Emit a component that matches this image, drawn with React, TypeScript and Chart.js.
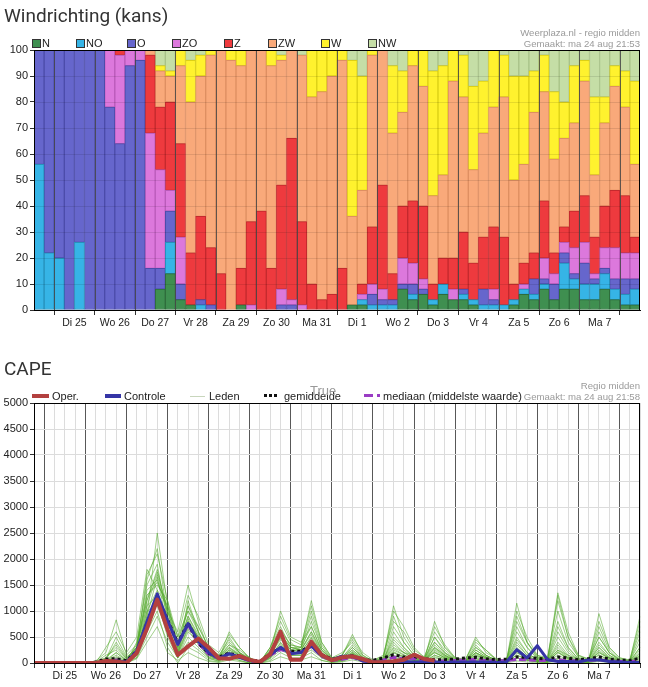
import React, { useEffect, useRef } from 'react';
import { Chart, registerables } from 'chart.js';

Chart.register(...registerables);
Chart.defaults.font.family = "'Liberation Sans', Arial, sans-serif";

// ---------- shared time axis ----------
const dayLabels = ['Di 25', 'Wo 26', 'Do 27', 'Vr 28', 'Za 29', 'Zo 30', 'Ma 31', 'Di 1', 'Wo 2', 'Do 3', 'Vr 4', 'Za 5', 'Zo 6', 'Ma 7'];
const hours = ['00u', '06u', '12u', '18u'];
const windSteps = ['Ma 24 12u', 'Ma 24 18u', ...dayLabels.flatMap((d) => hours.map((h) => `${d} ${h}`)), 'Di 8 00u', 'Di 8 06u'];
const capeSteps = ['Ma 24 18u', ...dayLabels.flatMap((d) => hours.map((h) => `${d} ${h}`)), 'Di 8 00u', 'Di 8 06u', 'Di 8 12u'];
// day boundaries on the wind chart (bar index), last one has no label
const windDayTicks = [2, 6, 10, 14, 18, 22, 26, 30, 34, 38, 42, 46, 50, 54, 58];

// ---------- wind direction probability (%) per 6h step ----------
const windN = [
  0, 0, 0, 0, 0, 0, 0, 0, 0, 0,
  0, 0, 8, 14, 4, 2, 0, 0, 0, 0,
  2, 0, 0, 0, 0, 0, 0, 0, 0, 0,
  0, 2, 2, 0, 0, 0, 8, 4, 6, 2,
  6, 4, 4, 2, 0, 0, 0, 2, 6, 4,
  8, 4, 8, 8, 4, 4, 8, 4, 2, 2,
];
const windNO = [
  56, 22, 20, 0, 26, 0, 0, 0, 0, 0,
  0, 0, 0, 12, 0, 0, 2, 0, 0, 0,
  0, 0, 0, 0, 0, 0, 0, 0, 0, 0,
  0, 0, 2, 2, 2, 2, 0, 2, 0, 2,
  4, 0, 2, 2, 2, 2, 2, 2, 2, 2,
  2, 0, 10, 4, 6, 6, 6, 4, 4, 6,
];
const windO = [
  44, 78, 80, 100, 74, 100, 100, 78, 64, 94,
  96, 16, 8, 12, 6, 0, 2, 2, 0, 0,
  0, 0, 0, 0, 2, 2, 0, 0, 0, 0,
  0, 0, 0, 4, 2, 2, 2, 4, 2, 0,
  0, 0, 2, 0, 6, 2, 0, 0, 0, 6,
  2, 6, 4, 2, 8, 2, 2, 4, 6, 4,
];
const windZO = [
  0, 0, 0, 0, 0, 0, 0, 22, 34, 6,
  4, 52, 38, 8, 18, 0, 0, 0, 0, 0,
  0, 2, 0, 0, 6, 2, 2, 0, 0, 0,
  0, 0, 2, 4, 4, 0, 10, 8, 4, 0,
  0, 4, 0, 0, 0, 4, 0, 0, 2, 0,
  8, 4, 4, 10, 8, 2, 8, 12, 10, 10,
];
const windZ = [
  0, 0, 0, 0, 0, 0, 0, 0, 2, 0,
  0, 30, 24, 34, 36, 20, 32, 22, 14, 0,
  14, 32, 38, 16, 40, 62, 32, 10, 4, 6,
  16, 0, 4, 22, 40, 10, 20, 24, 28, 6,
  10, 12, 22, 14, 20, 24, 26, 6, 8, 10,
  22, 8, 6, 14, 18, 14, 16, 22, 22, 6,
];
const windZW = [
  0, 0, 0, 0, 0, 0, 0, 0, 0, 0,
  0, 2, 14, 10, 30, 58, 54, 74, 86, 96,
  78, 66, 62, 78, 48, 34, 64, 72, 80, 84,
  80, 34, 36, 66, 52, 54, 36, 52, 46, 34,
  32, 68, 52, 36, 40, 46, 54, 40, 38, 54,
  42, 36, 34, 34, 44, 24, 32, 40, 34, 28,
];
const windW = [
  0, 0, 0, 0, 0, 0, 0, 0, 0, 0,
  0, 0, 2, 2, 6, 16, 8, 2, 0, 4,
  6, 0, 0, 6, 2, 0, 0, 18, 16, 10,
  4, 60, 44, 2, 0, 26, 16, 6, 14, 48,
  42, 12, 16, 32, 20, 22, 16, 40, 34, 16,
  14, 26, 14, 22, 8, 30, 10, 8, 14, 32,
];
const windNW = [
  0, 0, 0, 0, 0, 0, 0, 0, 0, 0,
  0, 0, 6, 8, 0, 4, 2, 0, 0, 0,
  0, 0, 0, 0, 2, 0, 2, 0, 0, 0,
  0, 4, 10, 0, 0, 6, 8, 0, 0, 8,
  6, 0, 2, 14, 12, 0, 2, 10, 10, 8,
  2, 16, 20, 6, 4, 18, 18, 6, 8, 12,
];

const windSeries = [
  { label: 'N', data: windN, fill: '#3f8f50', edge: '#2e6c3b' },
  { label: 'NO', data: windNO, fill: '#36b4e6', edge: '#2690bb' },
  { label: 'O', data: windO, fill: '#6666cc', edge: '#4c4caa' },
  { label: 'ZO', data: windZO, fill: '#dc78dc', edge: '#b95ab9' },
  { label: 'Z', data: windZ, fill: '#ee3a3e', edge: '#c42a2e' },
  { label: 'ZW', data: windZW, fill: '#f9a97a', edge: '#de8f62' },
  { label: 'W', data: windW, fill: '#fff22e', edge: '#dcd016' },
  { label: 'NW', data: windNW, fill: '#c5dea6', edge: '#a8c288' },
];
const windLegendX = [32, 76, 127, 172, 224, 268, 321, 368];

// ---------- CAPE (J/kg) per 6h step ----------
const capeOper = [
  0, 0, 0, 0, 0, 0, 0, 40, 30, 0,
  190, 660, 1220, 640, 154, 320, 470, 300, 90, 80,
  135, 60, 20, 170, 603, 64, 64, 411, 154, 55,
  109, 128, 77, 13, 13, 32, 64, 160, 77, 45,
  null, null, null, null, null, null, null, null, null, null,
  null, null, null, null, null, null, null, null, null, null,
];
const capeControle = [
  0, 0, 0, 0, 0, 0, 0, 20, 40, 20,
  230, 800, 1330, 820, 360, 760, 420, 200, 90, 180,
  110, 50, 20, 160, 300, 180, 200, 330, 140, 60,
  130, 130, 40, 20, 20, 20, 30, 20, 20, 20,
  10, 20, 20, 20, 20, 10, 20, 256, 96, 333,
  64, 30, 30, 20, 60, 60, 30, 20, 10, 10,
];
const capeGemiddelde = [
  0, 0, 0, 0, 0, 0, 20, 77, 83, 45,
  224, 770, 1282, 833, 385, 770, 385, 192, 115, 192,
  128, 64, 32, 180, 290, 224, 224, 350, 160, 77,
  96, 141, 64, 51, 96, 160, 115, 128, 77, 64,
  64, 77, 96, 109, 83, 64, 77, 115, 109, 90,
  77, 115, 96, 64, 83, 115, 77, 51, 51, 90,
];
const capeMediaan = [
  0, 0, 0, 0, 0, 0, 0, 30, 60, 20,
  200, 740, 1250, 800, 360, 740, 380, 170, 90, 170,
  110, 40, 10, 150, 260, 200, 210, 320, 130, 50,
  70, 110, 40, 30, 60, 110, 80, 90, 50, 40,
  40, 50, 60, 70, 50, 40, 50, 70, 60, 50,
  50, 60, 50, 40, 50, 60, 40, 30, 30, 40,
];
const lid01 = [0, 0, 0, 0, 0, 0, 0, 40, 120, 30, 300, 1100, 1700, 900, 300, 800, 500, 200, 100, 300, 150, 50, 0, 200, 500, 300, 250, 600, 200, 50, 100, 250, 80, 20, 50, 300, 200, 150, 60, 300, 150, 50, 40, 150, 80, 30, 20, 400, 150, 100, 50, 300, 100, 50, 40, 200, 100, 30, 20, 100];
const lid02 = [0, 0, 0, 0, 0, 0, 20, 100, 300, 80, 200, 900, 2500, 1100, 200, 1100, 600, 150, 50, 200, 100, 20, 0, 300, 800, 400, 200, 400, 100, 30, 50, 150, 50, 10, 30, 600, 300, 100, 30, 150, 80, 20, 20, 80, 40, 10, 10, 200, 100, 50, 30, 1300, 500, 100, 20, 150, 50, 20, 10, 50];
const lid03 = [0, 0, 0, 0, 0, 0, 0, 0, 50, 0, 150, 700, 1200, 500, 100, 600, 400, 100, 80, 500, 200, 100, 0, 150, 300, 200, 300, 900, 300, 80, 150, 550, 150, 30, 100, 1100, 500, 200, 80, 200, 100, 30, 30, 300, 150, 50, 30, 150, 80, 30, 20, 200, 100, 40, 50, 500, 200, 50, 30, 300];
const lid04 = [0, 0, 0, 0, 0, 0, 0, 50, 80, 20, 400, 1500, 1900, 800, 100, 500, 300, 100, 30, 150, 50, 0, 0, 100, 400, 150, 150, 300, 150, 40, 80, 200, 60, 20, 40, 200, 100, 50, 50, 800, 300, 100, 50, 200, 100, 40, 40, 1150, 400, 150, 50, 250, 150, 80, 30, 950, 300, 100, 50, 600];
const lid05 = [0, 0, 0, 0, 0, 0, 10, 20, 30, 10, 250, 1300, 1500, 1200, 500, 1000, 700, 300, 150, 400, 200, 80, 20, 200, 1000, 500, 400, 700, 250, 60, 120, 300, 100, 40, 80, 700, 400, 150, 100, 400, 200, 80, 60, 500, 200, 80, 50, 600, 300, 100, 80, 1350, 600, 150, 60, 400, 150, 50, 30, 900];
const lid06 = [0, 0, 0, 0, 0, 0, 0, 30, 200, 50, 100, 600, 1000, 300, 0, 300, 200, 50, 20, 100, 50, 0, 0, 50, 200, 100, 100, 200, 50, 10, 30, 100, 30, 0, 20, 100, 50, 20, 10, 100, 50, 10, 10, 50, 30, 0, 0, 100, 50, 20, 10, 80, 40, 10, 10, 50, 20, 0, 0, 20];
const lid07 = [0, 0, 0, 0, 0, 0, 40, 200, 830, 150, 350, 1200, 1800, 1000, 600, 1500, 800, 250, 100, 350, 250, 100, 10, 250, 600, 350, 300, 1200, 400, 100, 200, 400, 120, 50, 150, 800, 600, 250, 120, 600, 300, 100, 80, 400, 250, 60, 60, 800, 400, 120, 100, 1000, 400, 120, 80, 500, 200, 80, 40, 400];
const lid08 = [0, 0, 0, 0, 0, 0, 0, 10, 40, 0, 200, 800, 1300, 700, 200, 700, 400, 150, 60, 250, 150, 40, 0, 150, 500, 250, 200, 500, 200, 40, 60, 150, 50, 10, 30, 250, 150, 80, 40, 250, 120, 40, 30, 200, 100, 30, 20, 300, 120, 50, 40, 250, 100, 40, 20, 300, 120, 40, 20, 150];
const lid09 = [0, 0, 0, 0, 0, 0, 0, 60, 400, 100, 300, 1700, 2100, 1200, 300, 900, 500, 200, 80, 600, 300, 80, 10, 300, 700, 300, 250, 800, 300, 60, 100, 350, 100, 30, 50, 400, 200, 100, 60, 350, 150, 50, 40, 250, 120, 40, 30, 700, 300, 80, 60, 700, 300, 80, 50, 300, 100, 30, 20, 200];
const lid10 = [0, 0, 0, 0, 0, 0, 0, 20, 60, 10, 150, 1000, 1400, 600, 100, 1200, 600, 200, 100, 200, 120, 30, 0, 100, 350, 200, 200, 350, 150, 30, 50, 180, 60, 10, 30, 150, 80, 40, 20, 150, 80, 30, 20, 100, 60, 20, 10, 150, 60, 20, 20, 150, 60, 20, 10, 100, 50, 20, 10, 80];
const lid11 = [0, 0, 0, 0, 0, 0, 0, 80, 500, 120, 250, 1400, 1600, 1000, 400, 1100, 700, 300, 150, 450, 200, 60, 0, 250, 550, 300, 300, 700, 250, 60, 80, 300, 100, 20, 60, 500, 300, 120, 80, 500, 250, 80, 50, 350, 150, 50, 40, 500, 200, 60, 50, 600, 250, 60, 40, 700, 250, 60, 30, 500];
const lid12 = [0, 0, 0, 0, 0, 0, 0, 0, 20, 0, 100, 500, 900, 400, 100, 400, 250, 80, 40, 150, 80, 20, 0, 80, 250, 150, 150, 250, 100, 20, 40, 120, 40, 10, 20, 120, 60, 20, 20, 120, 60, 20, 10, 80, 40, 10, 10, 100, 50, 20, 10, 100, 40, 10, 10, 60, 30, 10, 0, 30];
const lid13 = [0, 0, 0, 0, 0, 0, 20, 150, 250, 60, 300, 1600, 2200, 900, 200, 800, 500, 150, 80, 250, 150, 50, 0, 200, 650, 350, 300, 1000, 350, 80, 150, 450, 150, 40, 100, 900, 400, 150, 60, 500, 200, 60, 40, 300, 150, 50, 30, 900, 400, 100, 80, 800, 300, 80, 60, 600, 200, 60, 40, 700];
const lid14 = [0, 0, 0, 0, 0, 0, 0, 30, 100, 20, 200, 1100, 1300, 800, 300, 900, 550, 200, 100, 300, 180, 50, 0, 150, 450, 250, 250, 550, 200, 50, 80, 200, 70, 20, 40, 350, 200, 80, 40, 300, 150, 40, 30, 200, 100, 30, 30, 350, 150, 50, 40, 400, 150, 50, 30, 250, 100, 30, 20, 250];
const lid15 = [0, 0, 0, 0, 0, 0, 0, 40, 150, 40, 350, 1300, 1550, 1100, 400, 1000, 600, 250, 120, 350, 200, 60, 10, 200, 550, 300, 250, 600, 250, 60, 100, 250, 90, 30, 60, 450, 250, 100, 60, 400, 180, 60, 40, 250, 120, 40, 30, 450, 200, 60, 50, 500, 200, 60, 40, 350, 150, 40, 30, 300];
const lid16 = [0, 0, 0, 0, 0, 0, 10, 60, 200, 50, 200, 1000, 1100, 600, 150, 650, 350, 120, 50, 200, 100, 30, 0, 100, 300, 150, 150, 400, 150, 30, 50, 150, 50, 10, 30, 200, 120, 50, 30, 200, 100, 30, 20, 150, 80, 20, 20, 250, 100, 30, 30, 200, 80, 30, 20, 200, 80, 20, 10, 120];
const lid17 = [0, 0, 0, 0, 0, 0, 0, 100, 350, 80, 300, 1200, 1750, 1000, 250, 850, 450, 180, 90, 280, 160, 40, 0, 180, 480, 260, 220, 480, 180, 40, 70, 220, 70, 20, 40, 280, 160, 70, 40, 280, 130, 40, 30, 180, 90, 30, 20, 280, 120, 40, 30, 350, 120, 40, 30, 220, 90, 30, 20, 180];
const lid18 = [0, 0, 0, 0, 0, 0, 0, 20, 80, 20, 250, 900, 1650, 700, 150, 700, 400, 150, 70, 220, 120, 30, 0, 120, 380, 200, 200, 420, 160, 30, 60, 180, 60, 20, 30, 220, 120, 50, 30, 220, 100, 30, 20, 130, 60, 20, 20, 200, 80, 30, 20, 220, 80, 20, 20, 160, 60, 20, 10, 140];
const lid19 = [0, 0, 0, 0, 0, 0, 0, 300, 600, 200, 500, 1800, 1400, 1100, 500, 1300, 900, 350, 200, 550, 300, 100, 20, 300, 900, 450, 350, 1100, 400, 100, 150, 500, 200, 60, 120, 1000, 700, 300, 100, 700, 350, 100, 60, 450, 250, 80, 50, 1000, 500, 150, 100, 1200, 500, 150, 80, 800, 300, 100, 60, 800];
const lid20 = [0, 0, 0, 0, 0, 0, 0, 0, 0, 0, 80, 400, 700, 200, 50, 200, 100, 30, 10, 60, 30, 0, 0, 30, 120, 60, 60, 120, 50, 10, 20, 60, 20, 0, 10, 60, 30, 10, 10, 60, 30, 10, 0, 40, 20, 0, 0, 40, 20, 0, 0, 40, 20, 0, 0, 30, 10, 0, 0, 10];
const capeLeden = [lid01, lid02, lid03, lid04, lid05, lid06, lid07, lid08, lid09, lid10, lid11, lid12, lid13, lid14, lid15, lid16, lid17, lid18, lid19, lid20];

// ---------- plugins ----------
const windOverlay = {
  id: 'windOverlay',
  afterDatasetsDraw(chart: any) {
    const { ctx, chartArea: a, scales } = chart;
    ctx.save();
    ctx.lineWidth = 1;
    ctx.strokeStyle = 'rgba(0,0,0,0.10)';
    scales.y.ticks.forEach((t: any) => {
      const py = Math.round(scales.y.getPixelForValue(t.value)) + 0.5;
      ctx.beginPath();
      ctx.moveTo(a.left, py);
      ctx.lineTo(a.right, py);
      ctx.stroke();
    });
    ctx.strokeStyle = 'rgba(70,70,70,0.85)';
    scales.days.ticks.forEach((t: any) => {
      const px = Math.round(scales.days.getPixelForValue(t.value)) + 0.5;
      ctx.beginPath();
      ctx.moveTo(px, a.top);
      ctx.lineTo(px, a.bottom);
      ctx.stroke();
    });
    ctx.strokeStyle = '#000';
    ctx.strokeRect(Math.round(a.left) + 0.5, Math.round(a.top) + 0.5, Math.round(a.right - a.left) - 1, Math.round(a.bottom - a.top));
    ctx.restore();
  },
};
const frameOverlay = {
  id: 'frameOverlay',
  afterDraw(chart: any) {
    const { ctx, chartArea: a } = chart;
    ctx.save();
    ctx.lineWidth = 1;
    ctx.strokeStyle = '#000';
    ctx.strokeRect(Math.round(a.left) + 0.5, Math.round(a.top) + 0.5, Math.round(a.right - a.left) - 1, Math.round(a.bottom - a.top));
    ctx.restore();
  },
};

const tickFontY = { size: 11 };
const tickFontX = { size: 10.5 };

function windConfig(): any {
  return {
    type: 'bar',
    data: {
      labels: windSteps,
      datasets: windSeries.map((s) => ({
        label: s.label,
        data: s.data,
        backgroundColor: s.fill,
        borderColor: s.edge,
        borderWidth: 1,
        borderSkipped: false,
        barPercentage: 1,
        categoryPercentage: 1,
      })),
    },
    options: {
      animation: false,
      responsive: false,
      maintainAspectRatio: false,
      layout: { padding: { top: 50, right: 8, left: 0, bottom: 0 } },
      plugins: { legend: { display: false }, tooltip: { enabled: false } },
      scales: {
        x: { stacked: true, display: false },
        days: {
          type: 'linear',
          position: 'bottom',
          offset: false,
          min: 0,
          max: 60,
          afterBuildTicks: (s: any) => {
            s.ticks = windDayTicks.map((v) => ({ value: v }));
          },
          afterFit: (s: any) => {
            s.height = 25;
          },
          ticks: {
            autoSkip: false,
            maxRotation: 0,
            minRotation: 0,
            labelOffset: 20.2,
            padding: 2,
            color: '#222',
            font: tickFontX,
            callback: (v: number) => dayLabels[windDayTicks.indexOf(v)] ?? '',
          },
          grid: { offset: false, drawOnChartArea: false, tickLength: 5, tickColor: '#333' },
          border: { color: '#000' },
        },
        y: {
          stacked: true,
          min: 0,
          max: 100,
          afterFit: (s: any) => {
            s.width = 34;
          },
          ticks: { stepSize: 10, padding: 2, color: '#222', font: tickFontY },
          grid: { drawOnChartArea: false, tickLength: 4, tickColor: '#333' },
          border: { color: '#000' },
        },
      },
    },
    plugins: [windOverlay],
  };
}

function capeConfig(): any {
  const main = [
    { label: 'Oper.', data: capeOper, borderColor: '#b3403f', borderWidth: 4, order: 0 },
    { label: 'Controle', data: capeControle, borderColor: '#3535a6', borderWidth: 3, order: 1 },
    { label: 'gemiddelde', data: capeGemiddelde, borderColor: '#111', borderWidth: 3, borderDash: [3, 3], order: 2 },
    { label: 'mediaan', data: capeMediaan, borderColor: '#9a3cc4', borderWidth: 3, borderDash: [7, 3], order: 3 },
  ];
  const leden = capeLeden.map((m, i) => ({
    label: `Lid ${i + 1}`,
    data: m,
    borderColor: 'rgba(84,170,44,0.55)',
    borderWidth: 1,
    order: 10,
  }));
  return {
    type: 'line',
    data: {
      labels: capeSteps,
      datasets: [...main, ...leden].map((d) => ({
        ...d,
        pointRadius: 0,
        tension: 0,
        fill: false,
        spanGaps: false,
        borderJoinStyle: 'round',
      })),
    },
    options: {
      animation: false,
      responsive: false,
      maintainAspectRatio: false,
      layout: { padding: { top: 48, right: 8, left: 0, bottom: 0 } },
      plugins: { legend: { display: false }, tooltip: { enabled: false } },
      scales: {
        x: {
          type: 'category',
          offset: false,
          afterFit: (s: any) => {
            s.height = 24;
          },
          ticks: {
            autoSkip: false,
            maxRotation: 0,
            minRotation: 0,
            padding: 2,
            color: '#222',
            font: tickFontX,
            callback: (_v: any, i: number) => (i % 4 === 3 ? dayLabels[(i - 3) / 4] ?? '' : ''),
          },
          grid: {
            color: (c: any) => (c.index % 4 === 1 ? 'rgba(70,70,70,0.9)' : '#dcdcdc'),
            tickColor: '#333',
            tickLength: 5,
          },
          border: { color: '#000' },
        },
        y: {
          min: 0,
          max: 5000,
          afterFit: (s: any) => {
            s.width = 34;
          },
          ticks: { stepSize: 500, padding: 2, color: '#222', font: tickFontY, callback: (v: number) => String(v) },
          grid: { color: '#dcdcdc', tickColor: '#333', tickLength: 4 },
          border: { color: '#000' },
        },
      },
    },
    plugins: [frameOverlay],
  };
}

const abs = (s: React.CSSProperties): React.CSSProperties => ({ position: 'absolute', ...s });
const titleStyle: React.CSSProperties = { fontFamily: 'Roboto, sans-serif', fontSize: 19, color: '#333', lineHeight: '22px', whiteSpace: 'nowrap' };
const legendText: React.CSSProperties = { fontFamily: "'Liberation Sans', Arial, sans-serif", fontSize: 11, color: '#222', lineHeight: '14px', whiteSpace: 'nowrap' };
const noteText: React.CSSProperties = { fontFamily: "'Liberation Sans', Arial, sans-serif", fontSize: 9.6, color: '#9a9a9a', lineHeight: '12px', whiteSpace: 'nowrap', textAlign: 'right' };

export default function App() {
  const windRef = useRef<HTMLCanvasElement>(null);
  const capeRef = useRef<HTMLCanvasElement>(null);

  useEffect(() => {
    const c1 = new Chart(windRef.current as HTMLCanvasElement, windConfig());
    const c2 = new Chart(capeRef.current as HTMLCanvasElement, capeConfig());
    return () => {
      c1.destroy();
      c2.destroy();
    };
  }, []);

  return (
    <div style={abs({ left: 0, top: 0, width: 648, height: 687, background: '#fff', overflow: 'hidden' })}>
      <canvas ref={windRef} width={648} height={335} style={abs({ left: 0, top: 0, width: 648, height: 335 })} />
      <canvas ref={capeRef} width={648} height={332} style={abs({ left: 0, top: 355, width: 648, height: 332 })} />

      {/* top chart header */}
      <div style={abs({ left: 4, top: 5, ...titleStyle })}>Windrichting (kans)</div>
      {windSeries.map((s, i) => (
        <React.Fragment key={s.label}>
          <div style={abs({ left: windLegendX[i], top: 39, width: 7, height: 7, background: s.fill, border: '1px solid #333' })} />
          <div style={abs({ left: windLegendX[i] + 10, top: 36, ...legendText })}>{s.label}</div>
        </React.Fragment>
      ))}
      <div style={abs({ right: 8, top: 27, ...noteText })}>Weerplaza.nl - regio midden</div>
      <div style={abs({ right: 8, top: 38, ...noteText })}>Gemaakt: ma 24 aug 21:53</div>

      {/* bottom chart header */}
      <div style={abs({ left: 4, top: 358, ...titleStyle })}>CAPE</div>
      <div style={abs({ left: 32, top: 394, width: 17, height: 4, background: '#b3403f' })} />
      <div style={abs({ left: 52, top: 389, ...legendText })}>Oper.</div>
      <div style={abs({ left: 105, top: 394, width: 16, height: 4, background: '#3535a6' })} />
      <div style={abs({ left: 124, top: 389, ...legendText })}>Controle</div>
      <div style={abs({ left: 190, top: 396, width: 15, height: 1, background: '#c8d6bc' })} />
      <div style={abs({ left: 209, top: 389, ...legendText })}>Leden</div>
      <div style={abs({ left: 264, top: 394, width: 13, height: 0, borderTop: '3px dotted #111' })} />
      <div style={abs({ left: 284, top: 389, ...legendText })}>gemiddelde</div>
      <div style={abs({ left: 310, top: 383, fontFamily: "'Liberation Sans', Arial, sans-serif", fontSize: 13, color: '#999', lineHeight: '16px' })}>True</div>
      <div style={abs({ left: 364, top: 394, width: 9, height: 3, background: '#9a3cc4' })} />
      <div style={abs({ left: 377, top: 394, width: 3, height: 3, background: '#9a3cc4' })} />
      <div style={abs({ left: 383, top: 389, ...legendText })}>mediaan (middelste waarde)</div>
      <div style={abs({ right: 8, top: 380, ...noteText })}>Regio midden</div>
      <div style={abs({ right: 8, top: 391, ...noteText })}>Gemaakt: ma 24 aug 21:58</div>
    </div>
  );
}
